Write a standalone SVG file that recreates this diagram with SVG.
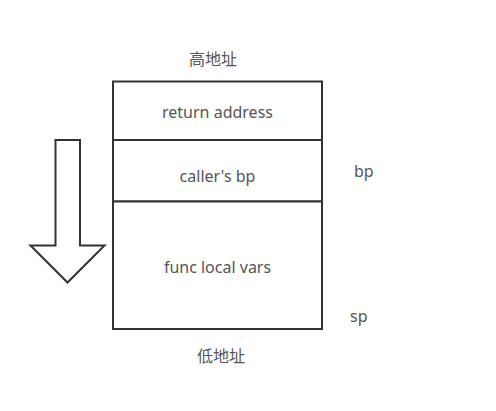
<svg xmlns="http://www.w3.org/2000/svg" width="496" height="411" viewBox="0 0 496 411">
<style>
.box{fill:#fff;stroke:#333;stroke-width:2}
.t{font-family:"Microsoft YaHei","Noto Sans","Noto Sans CJK SC",sans-serif;font-size:16px;fill:#555;text-anchor:middle}
.l{font-family:"Noto Sans",sans-serif;font-size:16px;fill:#555}
</style>
<rect width="496" height="411" fill="#fff"/>
<g id="high-label"><text class="t" x="213" y="65">高地址</text></g>
<g id="return-address"><rect class="box" x="113" y="81.5" width="209" height="58.5"/><text class="t" x="217.5" y="118">return address</text></g>
<g id="callers-bp"><rect class="box" x="113" y="140" width="209" height="61.5"/><text class="t" x="217.5" y="182">caller's bp</text></g>
<g id="func-local-vars"><rect class="box" x="113" y="201.5" width="209" height="127.5"/><text class="t" x="217.5" y="273">func local vars</text></g>
<g id="low-label"><text class="t" x="221" y="362">低地址</text></g>
<g id="bp-label"><text class="l" x="354" y="177">bp</text></g>
<g id="sp-label"><text class="l" x="350" y="322">sp</text></g>
<g id="connectors"><path d="M55.5 140 H80 V245.5 H104.5 L67.5 282.5 L30.5 245.5 H55.5 Z" fill="#fff" stroke="#333" stroke-width="2" stroke-linejoin="miter"/></g>
</svg>
